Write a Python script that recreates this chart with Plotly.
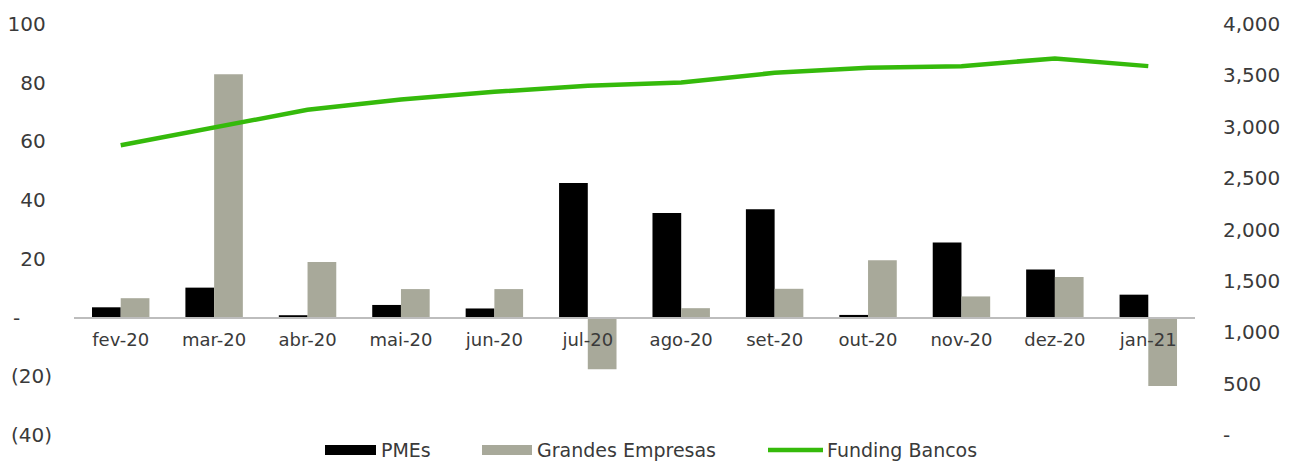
import plotly.graph_objects as go

# Monthly data
months = ["fev-20", "mar-20", "abr-20", "mai-20", "jun-20", "jul-20",
          "ago-20", "set-20", "out-20", "nov-20", "dez-20", "jan-21"]
pmes = [3.5, 10.2, 0.8, 4.3, 3.1, 45.8, 35.6, 36.9, 0.9, 25.6, 16.4, 7.8]
grandes_empresas = [6.6, 82.9, 18.9, 9.7, 9.7, -17.6, 3.2, 9.8, 19.5, 7.2, 13.8, -23.3]
funding_bancos = [2820, 2990, 3165, 3265, 3340, 3400, 3430, 3525, 3575, 3590, 3665, 3590]

# Axis tick labels (accounting style)
left_tickvals = [-40, -20, 0, 20, 40, 60, 80, 100]
left_ticktext = ["(40)", "(20)", "-\u00a0\u00a0\u00a0\u00a0\u00a0",
                 "20\u00a0", "40\u00a0", "60\u00a0", "80\u00a0", "100\u00a0"]
right_tickvals = [0, 500, 1000, 1500, 2000, 2500, 3000, 3500, 4000]
right_ticktext = ["-", "500", "1,000", "1,500", "2,000", "2,500", "3,000", "3,500", "4,000"]

BLACK = "#000000"
GREY = "#a8a99a"
GREEN = "#35ba0b"
TEXT = "#3a3a3a"
FONT = "DejaVu Sans"

fig = go.Figure()
fig.add_trace(go.Bar(x=months, y=pmes, name="PMEs", marker_color=BLACK,
                     marker_line_width=0, yaxis="y"))
fig.add_trace(go.Bar(x=months, y=grandes_empresas, name="Grandes Empresas",
                     marker_color=GREY, marker_line_width=0, yaxis="y"))
fig.add_trace(go.Scatter(x=months, y=funding_bancos, name="Funding Bancos",
                         mode="lines", line=dict(color=GREEN, width=4.5),
                         yaxis="y2"))

y_min, y_max = -40, 100
zero_pos = (0 - y_min) / (y_max - y_min)

fig.update_layout(
    width=1294, height=461,
    margin=dict(l=74, r=99, t=24, b=26),
    paper_bgcolor="white", plot_bgcolor="white",
    barmode="group", bargap=0.385, bargroupgap=0,
    showlegend=False,
    font=dict(family=FONT, color=TEXT),
    xaxis=dict(
        anchor="free", position=zero_pos, automargin=False,
        showline=True, linecolor="#bdbdbd", linewidth=2,
        showgrid=False, zeroline=False, ticks="",
        tickfont=dict(size=18, family=FONT, color=TEXT),
        ticklabelstandoff=6,
    ),
    yaxis=dict(
        range=[y_min, y_max], tickvals=left_tickvals, ticktext=left_ticktext,
        automargin=False,
        showgrid=False, zeroline=False, showline=False, ticks="",
        tickfont=dict(size=20, family=FONT, color=TEXT),
        ticklabelstandoff=21,
    ),
    yaxis2=dict(
        range=[0, 4000], tickvals=right_tickvals, ticktext=right_ticktext,
        overlaying="y", side="right", automargin=False,
        showgrid=False, zeroline=False, showline=False, ticks="",
        tickfont=dict(size=20, family=FONT, color=TEXT),
        ticklabelstandoff=27,
    ),
)

# Legend drawn below the plot area
plot_left, plot_right = 74, 1195
plot_top, plot_bottom = 24, 435


def px_x(px):
    return (px - plot_left) / (plot_right - plot_left)


def px_y(py):
    return (plot_bottom - py) / (plot_bottom - plot_top)


legend_y = 450
legend_items = [
    ("rect", BLACK, 325, 376, 380, "PMEs"),
    ("rect", GREY, 482, 532, 536, "Grandes Empresas"),
    ("line", GREEN, 768, 823, 826, "Funding Bancos"),
]
for kind, color, x0, x1, tx, label in legend_items:
    if kind == "rect":
        fig.add_shape(type="rect", xref="paper", yref="paper",
                      x0=px_x(x0), x1=px_x(x1),
                      y0=px_y(legend_y + 5), y1=px_y(legend_y - 5),
                      fillcolor=color, line_width=0)
    else:
        fig.add_shape(type="line", xref="paper", yref="paper",
                      x0=px_x(x0), x1=px_x(x1),
                      y0=px_y(legend_y), y1=px_y(legend_y),
                      line=dict(color=color, width=4.5))
    fig.add_annotation(text=label, xref="paper", yref="paper",
                       x=px_x(tx), y=px_y(legend_y), xanchor="left",
                       yanchor="middle", showarrow=False, borderpad=0,
                       font=dict(size=19, family=FONT, color=TEXT))

fig.write_html("out.html")
